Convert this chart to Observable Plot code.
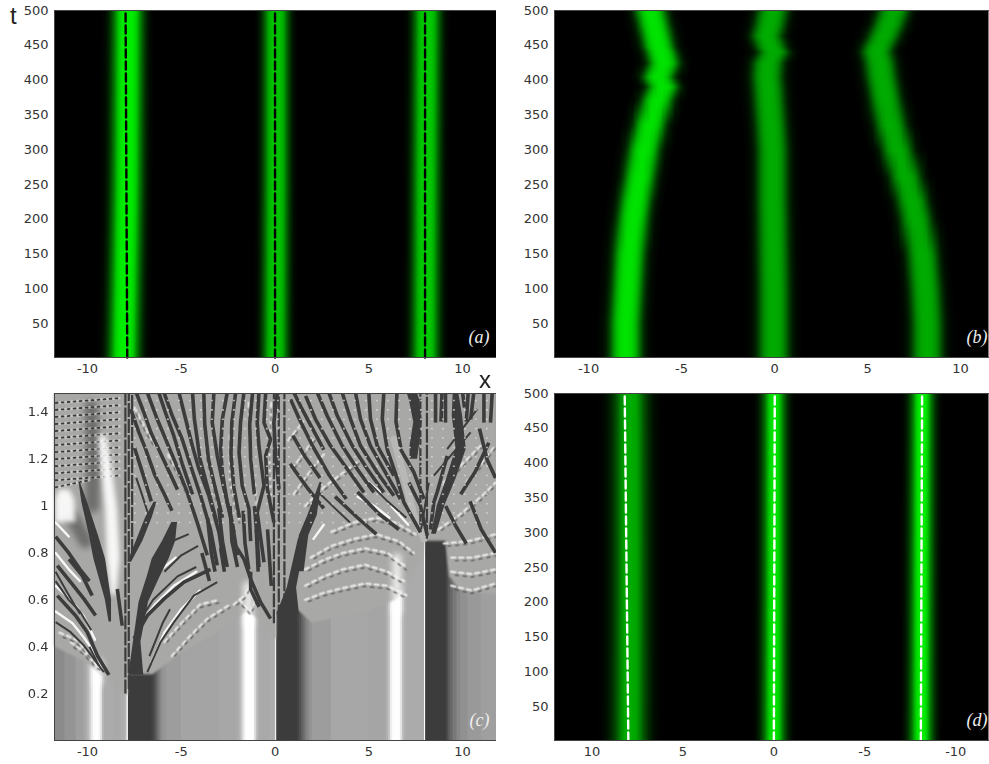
<!DOCTYPE html>
<html><head><meta charset="utf-8">
<script src="https://cdn.jsdelivr.net/npm/d3@7"></script>
<script src="https://cdn.jsdelivr.net/npm/@observablehq/plot@0.6"></script>
<style>
html,body{margin:0;background:#fff}
#page{position:relative;width:989px;height:764px;overflow:hidden;font-family:"DejaVu Sans",sans-serif}
.ax{position:absolute;font:24px "Liberation Sans",sans-serif;color:#222}
</style></head><body><div id="page"></div>
<script>
// Panel (a)
const aRows=[1,250,500];
const aLeft=[-8.05,-7.9,-7.85], aMid=[0.02,0.05,0.05], aRight=[8.02,8.05,8.1];
const aAmp=[1,0.82,0.85], aSpread=[0.95,0.8,0.85];
const aOffsets=[0,0.3,0.5,0.7,0.9,1.05,1.25,1.5];
const aValues=[1,0.97,0.85,0.55,0.3,0.15,0.04,0];
const aDashLeft=[-7.88,-7.97], aDashMid=[0,0], aDashRight=[8,8];
// Panel (b)
const bRows=[1,50,100,150,200,226,260,299,335,371,390,404,424,440,447,463,480,500];
const bLeft=[-8,-8,-7.9,-7.8,-7.6,-7.47,-7.25,-7.02,-6.7,-6.3,-6,-6.25,-5.95,-6.1,-6.22,-6.35,-6.5,-6.67];
const bMid=[-0.05,-0.05,-0.05,-0.08,-0.1,-0.12,-0.12,-0.12,-0.2,-0.3,-0.35,-0.4,-0.35,-0.05,-0.2,-0.42,-0.25,-0.1];
const bRight=[8.2,8.2,8.1,7.95,7.6,7.4,7.05,6.6,6.25,5.97,5.85,5.75,5.65,5.5,5.58,5.87,6.15,6.4];
const bAmp=[0.95,0.72,0.72];
const bOffsets=[0,0.25,0.45,0.6,0.75,0.9,1.05,1.25,1.6];
const bValues=[1,0.97,0.86,0.7,0.48,0.27,0.13,0.04,0];
// Panel (d)
const dRows=[1,250,500];
const dLeft=[7.9,7.88,7.9], dMid=[0,-0.02,-0.02], dRight=[-8.1,-8.12,-8.15];
const dAmp=[0.72,0.95,1], dSpread=[1.45,1,1];
const dOffsets=[0,0.2,0.35,0.5,0.7,0.9,1.1,1.3];
const dValues=[1,0.97,0.78,0.5,0.24,0.08,0.01,0];
const dDashLeft=[8,8.2], dDashMid=[0,-0.05], dDashRight=[-8.08,-8.15];
// Panel (c): grey level along x in the quiet lower part
const cX=[-11.76,-11.2,-10.6,-10.2,-10.1,-10,-9.9,-9.8,-9.7,-9.6,-9.5,-9.4,-9.3,-9.2,-9.1,-8.6,-8.2,-8,-7.9,-7.87,-7.82,-6.7,-6.6,-6.5,-6.4,-6.3,-6.2,-6.1,-6,-5.8,-5,-3,-2.2,-2.05,-1.9,-1.8,-1.7,-1.6,-1.5,-1.2,-1.1,-1,-0.9,-0.8,-0.3,0,0.04,0.09,1.1,1.2,1.3,1.4,1.5,1.6,1.7,1.85,2,3,5,5.8,5.95,6.05,6.15,6.25,6.4,6.6,6.7,6.8,6.9,7,7.9,7.97,8.03,9.05,9.15,9.25,9.35,9.5,9.7,9.9,10.3,11,11.81];
const cGrey=[140,150,160,166,172,182,205,232,250,255,255,248,225,185,172,170,174,182,235,255,62,62,66,74,90,108,125,140,150,158,165,168,168,172,182,205,230,250,255,255,225,192,175,170,172,190,255,62,62,70,82,96,110,124,137,150,158,168,166,168,178,195,235,252,255,252,225,190,176,172,172,255,62,62,76,92,106,122,136,146,154,160,160];
const cTopX=[-11.76,-10,-9.3,-8,-7.85,-7.8,-6.5,-5,-3,-1.5,-0.5,0,0.08,0.1,1.3,2,5,6.5,7.9,8,9.1,9.3,9.9,11.81];
const cTop=[0.4,0.33,0.28,0.2,0.19,0.28,0.28,0.37,0.46,0.55,0.5,0.43,0.43,0.55,0.55,0.5,0.55,0.6,0.78,0.85,0.85,0.7,0.64,0.62];
const cSoftWhite=[[-1.4,0.5,-1.45,0.66],[6.5,0.55,6.5,0.78],[-9.45,0.25,-9.4,0.33]];
// dark fan stripes of (c), each as x,t,x,t...
const cDarkMid=[
[-6.81,1.484,-6.28,1.37,-5.39,1.2,-4.68,1.058,-4.15,0.93,-3.61,0.79],
[-5.92,1.484,-5.48,1.385,-4.95,1.285,-4.5,1.172,-3.97,1.044,-3.44,0.9,-3.08,0.747],
[-5.12,1.484,-4.86,1.4,-4.41,1.257,-4.06,1.158,-3.53,1.044,-2.99,0.888,-2.72,0.747],
[-3.26,1.484,-3.35,1.356,-3.08,1.214,-2.72,1.073,-2.28,0.93,-2.01,0.79],
[-2.55,1.484,-2.81,1.37,-2.9,1.243,-2.81,1.143,-2.55,1.016,-2.19,0.888],
[-1.66,1.484,-1.84,1.356,-1.92,1.228,-1.75,1.087,-1.39,0.988,-1.3,0.85],
[-0.86,1.484,-0.95,1.356,-0.86,1.257,-0.59,1.087,-0.95,0.973,-0.59,0.76],
[-0.5,1.484,-0.59,1.356,-0.24,1.285,-0.5,1.214,-0.41,1.073,-0.06,0.93],
[0.12,1.484,-0.06,1.356,0.03,1.214,0.21,1.073],
[-7.7,1.413,-7.26,1.314,-6.9,1.243,-6.4,1.13,-5.9,1.05,-5.5,0.98],
[-4.4,1.484,-4.3,1.37,-4,1.2,-3.5,1.05,-3.1,0.93],
[1.63,1.47,2.16,1.37,2.96,1.257,3.85,1.158,4.74,1.058],
[2.25,1.484,2.78,1.385,3.58,1.257,4.38,1.158,5.27,1.058],
[2.87,1.484,3.32,1.385,4.12,1.257,4.92,1.158,5.8,1.058],
[3.58,1.484,4.03,1.37,4.56,1.257,5.45,1.143,6.34,1.044],
[4.29,1.484,4.56,1.37,5.09,1.257,5.98,1.13,6.69,1.03],
[5,1.484,5.09,1.37,5.45,1.257,6.34,1.13],
[5.8,1.484,5.72,1.37,5.98,1.243,6.52,1.115,6.87,1.016,7.76,0.888],
[0.83,1.455,1.3,1.37,2,1.257,2.9,1.13,3.8,1.03],
[6.69,1.243,7.41,1.143,7.94,1.03],
[7.14,1.1,7.76,1,8.12,0.874],
[8.29,0.9,8.47,1.016,8.65,1.06,9.18,1.214],
[8.56,1.484,8.56,1.356],[9.09,1.484,9.09,1.356],[10.6,1.484,10.43,1.37],[11.14,1.484,11.14,1.356],[11.58,1.484,11.49,1.356],[10,1.484,10.1,1.42],
[-8.41,0.646,-8.15,0.49],
[-8.86,0.28,-9.48,0.363,-10.01,0.462,-10.64,0.533,-11.61,0.618],
[-11.61,0.746,-10.9,0.675,-10.19,0.604,-9.57,0.533],
[-10.99,0.774,-10.28,0.703,-9.75,0.618],
[-7.52,0.434,-6.81,0.533,-5.92,0.604,-4.86,0.675,-3.44,0.73],
[-0.24,0.52,-0.77,0.59,-1.3,0.689,-1.66,0.774,-2.1,0.83],
[-0.85,0.57,-1.3,0.645,-1.3,0.72],
[-3.9,0.8,-3.5,0.68],[-2.9,0.82,-2.7,0.72],[-1,0.9,-0.9,0.72],
[11.76,0.8,11,0.9,10.4,1.02],[9.1,1,9.6,0.92,10.2,0.84],[3.2,1.04,4.4,0.95,5.4,0.88],[4.4,1.06,5.5,0.97,6.6,0.9],
[-3.6,0.95,-3.4,0.8,-3.2,0.72],[-3,0.99,-2.8,0.85,-2.55,0.74],[-2.4,1,-2.3,0.85,-2,0.74],[-1.7,0.98,-1.6,0.84,-1.4,0.73],[-1.1,1,-0.95,0.86,-0.85,0.74],[-0.4,0.9,-0.3,0.78,-0.2,0.66],
[-7.5,1.25,-7.1,1.15,-6.6,1.02],[-6.2,1.484,-5.85,1.4,-5.4,1.3,-4.95,1.18,-4.4,1.05],[-7.4,1.484,-7,1.4,-6.6,1.31,-5.9,1.19,-5.2,1.07],[-3.8,1.484,-3.75,1.35,-3.55,1.2,-3.2,1.08,-2.8,0.95],[-2.1,1.484,-2.3,1.36,-2.35,1.22,-2.2,1.08,-1.9,0.95],[-1.2,1.484,-1.35,1.35,-1.3,1.2,-1.1,1.05],
[1,1.484,1.4,1.42,2,1.33,2.6,1.24],[6.5,1.484,6.45,1.36,6.7,1.25],[0.95,1.3,1.6,1.21,2.4,1.12],[0.8,1.18,1.7,1.08,2.6,0.99],
[8.9,1.484,8.85,1.36],[10.3,1.484,10.2,1.36],[10.9,1.33,11.3,1.2,11.76,1.12],[9.9,1.05,10.7,1.15,11.4,1.27],
[-11.7,0.87,-11,0.8,-10.4,0.73,-9.9,0.68]
];
const cDarkThin=[
[-9.13,0.292,-10.19,0.405,-10.9,0.462,-11.7,0.505],
[-6.81,0.292,-6.1,0.42,-5.39,0.505,-4.33,0.618,-3.08,0.675],
[8.47,1.13,9.36,1.214,10.43,1.314],[9.18,1.243,10.78,1.413],
[7.79,0.9,8.2,1.1],
[-11.7,0.72,-11,0.62,-10.4,0.54],
[-7.3,0.5,-6.5,0.6,-5.2,0.7,-4.2,0.74],
[-7.4,1.12,-7.1,1.05,-6.7,0.95],[2.3,1.06,3.2,0.99,4,0.93],[5,1.1,6,1.02,7,0.95],
[-11.7,0.68,-11,0.6,-10.4,0.55,-9.8,0.47],[-9.4,0.32,-9.9,0.4],
[-6.3,0.78,-5.5,0.85,-4.6,0.88],[-5.9,0.72,-5,0.79,-4.1,0.83],[-6.7,0.36,-6,0.5,-5.6,0.56]
];
const cDarkColumns=[
[-7.98,0.2,-7.98,1.48],[-7.8,0.22,-7.8,1.48],[-7.62,0.8,-7.62,1.48],
[-0.06,0.5,-0.06,1.48],[0.2,0.52,0.2,1.48],[0.5,0.5,0.5,1.48],
[8.1,0.86,8.1,1.48],[7.75,0.92,7.75,1.48]
];
// wide wedges as t, left x, right x
const cWedges=[
[0.505,-8.85,-8.72,0.6,-9.05,-8.72,0.774,-9.66,-9.04,0.874,-9.9,-9.42,1.016,-10.3,-10,1.1,-10.45,-10.38],
[0.278,-7.8,-7,0.42,-7.55,-7.15,0.59,-7.25,-6.75,0.703,-6.8,-6.1,0.774,-6.55,-5.65,0.85,-6,-5.3,0.93,-5.5,-5.2],
[0.76,-7.85,-7.65,0.85,-7.4,-7.05,0.95,-6.9,-6.55,1.016,-6.45,-6.3],
[0.54,0.1,1.3,0.65,0.65,1.15,0.86,1.25,1.65],
[0.72,1,1.55,0.874,1.3,1.8,0.96,1.75,2.25,1.1,2.4,2.5],
[1.2,7.2,7.6,1.257,7.2,7.7,1.356,7.4,7.85,1.455,7.15,7.7,1.48,7.05,7.6],
[0.88,8.35,8.6,1,8.65,9.05,1.115,9.15,9.65,1.243,9.65,10.2,1.385,9.45,10,1.48,9.5,9.8]
];
const cWhiteWedges=[
[0.78,-8.95,-8.25,0.99,-9.04,-8.4,1.17,-9.25,-8.7,1.3,-9.4,-9],
[0.62,-8.72,-8.45,0.78,-8.95,-8.25],
[0.93,-11.7,-10.6,1.03,-11.7,-10.7,1.07,-11.5,-10.95]
];
// light grey wedge running through the dark stripes on the right
const cLightStripes=[[6.34,1.285,6.87,1.13,7.41,0.96,7.94,0.86]];
const cSoftGrey=[[-9.75,1,-9.7,1.2,-9.8,1.42],[-10.8,0.95,-10.1,0.85]];
// bright streaks
const cWhite=[
[-11.7,0.55,-10.8,0.5,-10.2,0.44,-9.5,0.36],[-11.7,0.66,-10.9,0.6,-10.2,0.53,-9.6,0.43],
[-11.7,0.8,-11,0.73,-10.4,0.68],[-11.7,0.93,-11,0.87],[-7.15,0.5,-6.4,0.58,-5.4,0.66,-4.2,0.72],
[-6.6,0.33,-5.9,0.46,-5,0.56,-4,0.64],[-7,0.62,-6.2,0.72,-5.3,0.78],
[2.05,0.86,2.6,0.92],[6.1,0.95,5.3,1,4.4,1.04],[7.1,0.92,6.2,1],[5.6,1.06,4.7,1.12]
];
const cRipplesWhite=[
[-5.9,0.42,-5,0.5,-4,0.58,-3,0.6],[-5.5,0.36,-4.6,0.44,-3.6,0.52,-2.4,0.58],
[-2.2,0.58,-1.6,0.62,-1.2,0.68],[-1.9,0.6,-1.3,0.55,-0.9,0.62],
[-10.9,0.42,-10.2,0.38,-9.5,0.32,-8.9,0.3],[-11.5,0.46,-10.6,0.43,-9.8,0.36],
[1.6,0.6,2.6,0.63,3.6,0.65,4.8,0.67,6,0.66,7,0.62],[1.6,0.66,2.6,0.7,3.6,0.73,4.8,0.75,6,0.72,6.9,0.68],
[1.6,0.73,2.6,0.77,3.6,0.8,4.8,0.82,6,0.8,7,0.74],[1.9,0.78,3,0.83,4.2,0.86,5.4,0.88,6.6,0.85,7.4,0.8],
[3,0.89,4.2,0.93,5.4,0.95,6.4,0.93,7.5,0.88],[1.6,1,2.6,1.08,3.6,1.14,4.6,1.2],[1,1.05,1.8,1.14,2.6,1.22],
[0.9,1.16,1.5,1.22,2.2,1.3],[0.7,1.28,1.5,1.36],
[9.4,0.66,10.5,0.64,11.76,0.67],[9.4,0.72,10.5,0.71,11.76,0.73],[9.4,0.78,10.5,0.78,11.76,0.8],[9,0.84,10.3,0.85,11.76,0.88],[8.7,0.9,9.8,0.96,11,1.04,11.76,1.1],[9,1.1,10,1.18,11,1.26],[10.2,1.1,11.2,1.2,11.76,1.26],
[-7.5,1.42,-6.9,1.33,-6.4,1.26],[-5.7,1.22,-5,1.12,-4.4,1],[-3.8,1.4,-3.6,1.2,-3.1,1.02],[-2.4,1.3,-2.4,1.1,-1.9,0.94],[-1.4,1.44,-1.3,1.22,-1,1.02],[-0.2,1.44,-0.3,1.2,-0.2,1]
];
const cDotRows=[
[-11.7,1.08,-9.9,1.11],[-11.7,1.11,-8.3,1.13],[-11.7,1.14,-8.3,1.16],[-11.7,1.17,-8.3,1.19],[-11.7,1.2,-8.3,1.22],[-11.7,1.23,-8.3,1.25],[-11.7,1.26,-8.3,1.28],[-11.7,1.29,-8.3,1.31],[-11.7,1.32,-8.3,1.34],[-11.7,1.35,-8.3,1.37],[-11.7,1.38,-8.3,1.4],[-11.7,1.41,-8.3,1.43],[-11.7,1.44,-8.3,1.46]
];
const cSpeckleRows=[0.93,0.97,1.01,1.05,1.09,1.13,1.17,1.21,1.25,1.29,1.33,1.37,1.41,1.45];
const tTicks=[50,100,150,200,250,300,350,400,450,500];
const cTicks=[0.2,0.4,0.6,0.8,1,1.2,1.4];
const xTicks=[-10,-5,0,5,10];

const inkFont="'DejaVu Sans',sans-serif";
function rows(list){
  const out=[];
  list.forEach((a,id)=>{for(let i=0;i<a.length;i+=2)out.push({id,x:a[i],t:a[i+1]})});
  return out;
}
function wedgeRows(list){
  const out=[];
  list.forEach((a,id)=>{for(let i=0;i<a.length;i+=3)out.push({id,t:a[i],x1:a[i+1],x2:a[i+2]})});
  return out;
}
function ridges(tRows,centres,amps,offsets,values,dom,spread){
  const pts=[];
  centres.forEach((c,k)=>tRows.forEach((t,r)=>offsets.forEach((o,j)=>{
    const s=spread?spread[k]:1;
    pts.push({x:c[r]+o*s,t,v:values[j]*amps[k]});
    if(o>0)pts.push({x:c[r]-o*s,t,v:values[j]*amps[k]});
  })));
  for(const x of dom)for(const t of [tRows[0],tRows[tRows.length-1]])pts.push({x,t,v:0});
  return pts;
}
function dashRows(tRows,lines){
  const out=[];
  lines.forEach((l,id)=>{out.push({id,x:l[0],t:tRows[0]},{id,x:l[1],t:tRows[tRows.length-1]})});
  return out;
}
function axes(tick){
  return [
    Plot.axisX({ticks:xTicks,tickSize:0,tickPadding:6,fontSize:13,tickFormat:d=>String(d),label:null,fill:"#333"}),
    Plot.axisY({ticks:tick,tickSize:0,tickPadding:6,fontSize:13,tickFormat:d=>String(d),label:null,fill:"#333"}),
    Plot.frame({anchor:"left",stroke:"#444"}),Plot.frame({anchor:"bottom",stroke:"#444"}),Plot.frame({anchor:"top",stroke:"#444"})
  ];
}
function tag(s,dx){
  return Plot.text([s],{frameAnchor:"bottom-right",dx:dx,dy:-15,fill:"#eee",fontSize:18,fontStyle:"italic",fontFamily:"'Liberation Serif',serif",textAnchor:"end"});
}
function greenPanel(o){
  const chart=Plot.plot({
    width:o.width,height:o.height,marginLeft:54,marginRight:o.mr,marginTop:o.mt,marginBottom:24,
    style:{background:"transparent",fontFamily:inkFont},
    x:{domain:o.dom,label:null},
    y:{domain:[1,500],label:null},
    color:{type:"linear",domain:[0,1],range:["#000000","#00f000"]},
    marks:[
      Plot.raster(o.pts,{x:"x",y:"t",fill:"v",interpolate:"barycentric"}),
      ...(o.dash?[Plot.line(o.dash,{x:"x",y:"t",z:"id",stroke:o.dashColor,strokeWidth:2.4,strokeDasharray:"8 4"})]:[]),
      ...axes(tTicks),
      tag(o.label,o.tagDx)
    ]});
  chart.style.position="absolute";chart.style.left=o.left+"px";chart.style.top=o.top+"px";
  document.getElementById("page").appendChild(chart);
}
const aDom=[-11.76,11.81], bDom=[-11.83,11.5], dDom=[12.06,-11.8];
greenPanel({width:496,height:381,mr:0,mt:10,left:0,top:0,dom:aDom,
  pts:ridges(aRows,[aLeft,aMid,aRight],aAmp,aOffsets,aValues,aDom,aSpread),
  dash:dashRows(aRows,[aDashLeft,aDashMid,aDashRight]),dashColor:"#000",label:"(a)",tagDx:-7});
greenPanel({width:489,height:381,mr:1,mt:10,left:500,top:0,dom:bDom,
  pts:ridges(bRows,[bLeft,bMid,bRight],bAmp,bOffsets,bValues,bDom),label:"(b)",tagDx:-1});
greenPanel({width:489,height:381,mr:1,mt:10,left:500,top:383,dom:dDom,
  pts:ridges(dRows,[dLeft,dMid,dRight],dAmp,dOffsets,dValues,dDom,dSpread),
  dash:dashRows(dRows,[dDashLeft,dDashMid,dDashRight]),dashColor:"#fff",label:"(d)",tagDx:-1});

// Panel (c)
const cMin=0,cMax=1.48;
const cEnd=cX[cX.length-1];
const cBands=cX.slice(0,-1).map((x,i)=>({x1:x,x2:cEnd,v:cGrey[i]}));
const cUpper=cTopX.map((x,i)=>({x,top:cTop[i]}));
const soft="blur(0.45px)";
const cChart=Plot.plot({
  width:496,height:371,marginLeft:54,marginRight:0,marginTop:0,marginBottom:24,
  style:{background:"transparent",fontFamily:inkFont},
  x:{domain:aDom,label:null},
  y:{domain:[cMin,cMax],label:null},
  color:{type:"linear",domain:[62,255],range:["#3c3c3c","#ffffff"]},
  marks:[
    Plot.rect(cBands,{x1:"x1",x2:"x2",y1:cMin,y2:cMax,fill:"v",imageFilter:"blur(0.6px)"}),
    Plot.areaY(cUpper,{x:"x",y1:"top",y2:cMax,fill:"#a8a8a6",imageFilter:"blur(1px)"}),
    Plot.line(rows(cSoftWhite),{x:"x",y:"t",z:"id",stroke:"#fff",strokeWidth:9,opacity:0.8,imageFilter:"blur(3px)"}),
    Plot.line(rows(cSoftGrey),{x:"x",y:"t",z:"id",stroke:"#555",strokeWidth:14,opacity:0.7,imageFilter:"blur(3px)"}),
    Plot.line(rows(cDotRows),{x:"x",y:"t",z:"id",stroke:"#fff",strokeWidth:2.5,strokeDasharray:"3 3",strokeDashoffset:3,opacity:0.45}),
    Plot.line(rows(cDotRows),{x:"x",y:"t",z:"id",stroke:"#3c3c3c",strokeWidth:1.8,strokeDasharray:"2 4",imageFilter:soft}),
    Plot.areaX(wedgeRows(cWhiteWedges),{x1:"x1",x2:"x2",y:"t",z:"id",fill:"#fff",opacity:0.9,imageFilter:"blur(2.5px)"}),
    Plot.line(rows(cLightStripes),{x:"x",y:"t",z:"id",stroke:"#b8b8b6",strokeWidth:7}),
    Plot.line(rows(cRipplesWhite),{x:"x",y:"t",z:"id",stroke:"#f4f4f4",strokeWidth:2.4,strokeDasharray:"4 4",opacity:0.8,imageFilter:"blur(0.6px)"}),
    Plot.line(rows(cRipplesWhite),{x:"x",y:"t",z:"id",stroke:"#4a4a4a",strokeWidth:1.4,strokeDasharray:"3 5",strokeDashoffset:4,dy:3,opacity:0.8,imageFilter:soft}),
    Plot.line(rows(cWhite),{x:"x",y:"t",z:"id",stroke:"#f7f7f7",strokeWidth:2.4,imageFilter:soft}),
    Plot.areaX(wedgeRows(cWedges),{x1:"x1",x2:"x2",y:"t",z:"id",fill:"#3c3c3c",imageFilter:soft}),
    Plot.line(rows(cDarkMid),{x:"x",y:"t",z:"id",stroke:"#3c3c3c",strokeWidth:3.6,strokeLinejoin:"bevel",strokeLinecap:"butt",imageFilter:soft}),
    Plot.line(rows(cDarkThin),{x:"x",y:"t",z:"id",stroke:"#3c3c3c",strokeWidth:2,strokeLinecap:"butt",imageFilter:soft}),
    Plot.line(rows(cDarkColumns),{x:"x",y:"t",z:"id",stroke:"#3c3c3c",strokeWidth:2.2,strokeDasharray:"14 2",strokeLinecap:"butt"}),
    Plot.ruleY(cSpeckleRows,{x1:-7.5,x2:11.76,y:d=>d,stroke:"#d8d8d6",strokeWidth:1.6,strokeDasharray:"2 9",opacity:0.75,imageFilter:soft}),
    ...axes(cTicks),
    tag("(c)",-7)
  ]});
cChart.style.position="absolute";cChart.style.left="0";cChart.style.top="393px";
document.getElementById("page").appendChild(cChart);

for(const [s,l,t] of [["t",10,2],["x",479,366]]){
  const d=document.createElement("div");d.className="ax";d.textContent=s;d.style.left=l+"px";d.style.top=t+"px";
  document.getElementById("page").appendChild(d);
}
</script></body></html>
